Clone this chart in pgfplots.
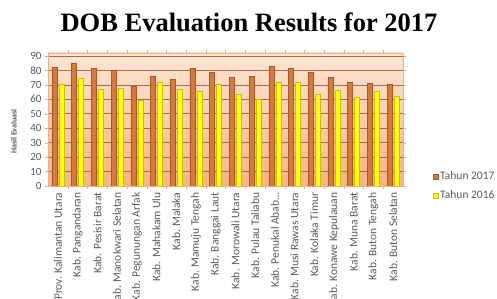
\documentclass[border=0pt]{standalone}
\usepackage{pgfplots}
\pgfplotsset{compat=1.18}
\usepackage{pgfplotstable}
\usepackage{fontspec}
\setmainfont{Carlito}
\newfontfamily\titlefont{Liberation Serif}
\definecolor{barO}{HTML}{D67A3C}
\definecolor{barOd}{HTML}{A9582A}
\definecolor{barY}{HTML}{FFFF00}
\definecolor{barYd}{HTML}{C2C200}
\definecolor{bgTop}{HTML}{FDE6D4}
\definecolor{bgBot}{HTML}{F6B386}
\definecolor{gridC}{HTML}{A06E52}
\definecolor{axC}{HTML}{F0AE80}
\definecolor{txt}{HTML}{595959}

\pgfplotstableread{
x v
0 82.2
1 85.2
2 81.5
3 79.8
4 69.2
5 76.2
6 73.6
7 81.2
8 78.7
9 75.2
10 75.9
11 82.8
12 81.7
13 78.9
14 75.2
15 71.5
16 71.1
17 70.4
}\tahunA
\pgfplotstableread{
x v
0 70.6
1 74.5
2 66.7
3 67.6
4 59.3
5 71.8
6 67.2
7 65.5
8 70.4
9 63.2
10 59.8
11 72.0
12 72.0
13 63.2
14 66.0
15 61.2
16 65.3
17 62.3
}\tahunB

\begin{document}
\begin{tikzpicture}
\path[use as bounding box] (0,0) rectangle (497pt,299pt);
\node[font=\titlefont\fontsize{26.5}{30}\selectfont\bfseries] at (249pt,277pt) {DOB Evaluation Results for 2017};
\begin{axis}[
  at={(48pt,113pt)}, anchor=south west,
  scale only axis, width=355pt, height=133pt,
  xmin=-0.5, xmax=17.5, ymin=0, ymax=92,
  ybar, bar width=5pt,
  xtick={0,1,2,3,4,5,6,7,8,9,10,11,12,13,14,15,16,17},
  xticklabels={{Prov. Kalimantan Utara},{Kab. Pangandaran},{Kab. Pesisir Barat},{Kab. Manokwari Selatan},{Kab. Pegunungan Arfak},{Kab. Mahakam Ulu},{Kab. Malaka},{Kab. Mamuju Tengah},{Kab. Banggai Laut},{Kab. Morowali Utara},{Kab. Pulau Taliabu},{Kab. Penukal Abab\ldots},{Kab. Musi Rawas Utara},{Kab. Kolaka Timur},{Kab. Konawe Kepulauan},{Kab. Muna Barat},{Kab. Buton Tengah},{Kab. Buton Selatan}},
  x tick label style={rotate=90, anchor=east, font=\fontsize{11.5}{13}\selectfont, text=txt},
  ytick={0,10,20,30,40,50,60,70,80,90},
  y tick label style={font=\fontsize{11}{13}\selectfont, text=txt},
  /pgf/number format/assume math mode=true,
  minor x tick num=1,
  major x tick style={draw=none},
  minor x tick style={draw=axC},
  y tick style={draw=axC},
  tick align=outside, major tick length=3pt, minor tick length=3pt,
  ymajorgrids, major grid style={color=gridC, line width=0.6pt},
  axis line style={color=axC, line width=0.8pt},
  axis background/.style={top color=bgTop, bottom color=bgBot},
  ylabel={\textbf{Hasil Evaluasi}},
  ylabel style={at={(axis description cs:-0.096,0.41)}, anchor=center, font=\fontsize{8}{9}\selectfont, text=txt},
  legend style={at={(1.075,0.0)}, anchor=west, draw=none, fill=none, font=\fontsize{11.5}{13}\selectfont, text=txt, row sep=5pt},
  legend cell align=left,
  legend image code/.code={\fill[#1] (0pt,-2.5pt) rectangle (5pt,2.5pt);},
]
\addplot[fill=barO, draw=barOd, line width=0.4pt] table[x=x,y=v] {\tahunA};
\addlegendentry{Tahun 2017}
\addplot[fill=barY, draw=barYd, line width=0.4pt] table[x=x,y=v] {\tahunB};
\addlegendentry{Tahun 2016}
\end{axis}
\end{tikzpicture}
\end{document}
